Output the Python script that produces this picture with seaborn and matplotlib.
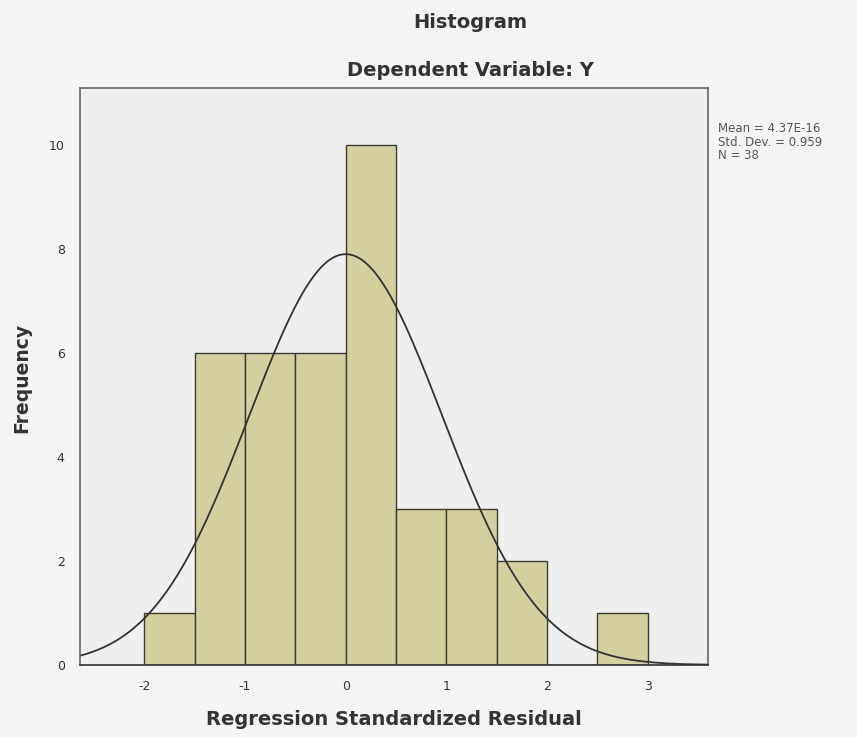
import numpy as np
import pandas as pd
import matplotlib
matplotlib.use("Agg")
import matplotlib.pyplot as plt
import seaborn as sns

bin_centers = [-1.75, -1.25, -0.75, -0.25, 0.25, 0.75, 1.25, 1.75, 2.25, 2.75]
counts = [1, 6, 6, 6, 10, 3, 3, 2, 0, 1]
mean_val = 4.37e-16
std_val = 0.959
n_val = 38
xticks = [-2, -1, 0, 1, 2, 3]
yticks = [0, 2, 4, 6, 8, 10]

sns.set_style("white")
plt.rcParams['font.family'] = ['DejaVu Sans']

fig = plt.figure(figsize=(8.57, 7.37), dpi=100, facecolor="#f4f4f4")
ax = fig.add_axes([80/857, 72/737, 628/857, 577/737])
ax.set_facecolor("#efefef")

df = pd.DataFrame({"x": bin_centers, "w": counts})
sns.histplot(data=df, x="x", weights="w", binwidth=0.5, binrange=(-2, 3),
             color="#d4cf9f", alpha=1, edgecolor="#3a3a30", linewidth=1.0, ax=ax)

xs = np.linspace(-2.64, 3.6, 400)
pdf = n_val * 0.5 / (std_val * np.sqrt(2 * np.pi)) * np.exp(-0.5 * ((xs - mean_val) / std_val) ** 2)
sns.lineplot(x=xs, y=pdf, color="#333333", linewidth=1.3, ax=ax)

ax.set_xlim(-2.64, 3.6)
ax.set_ylim(0, 11.1)
ax.set_xticks(xticks)
ax.set_xticklabels([str(t) for t in xticks])
ax.set_yticks(yticks)
ax.set_yticklabels([str(t) for t in yticks])
ax.tick_params(direction="out", length=6, width=1, pad=5, color="#555555", labelsize=9, labelcolor="#333333")
for s in ax.spines.values():
    s.set_color("#666666")
    s.set_linewidth(1.2)
ax.spines["bottom"].set_color("#333333")

ax.set_xlabel("Regression Standardized Residual", fontsize=14, fontweight="bold", color="#333333")
ax.set_ylabel("Frequency", fontsize=13.5, fontweight="bold", color="#333333")
ax.xaxis.set_label_coords((394 - 80) / 628, -(710 - 665) / 577)
ax.yaxis.set_label_coords((31 - 80) / 628, (737 - 378 - 72) / 577)

fig.text(470/857, 1 - 22/737, "Histogram", ha="center", va="center", fontsize=14, fontweight="bold", color="#333333")
fig.text(470/857, 1 - 70/737, "Dependent Variable: Y", ha="center", va="center", fontsize=14, fontweight="bold", color="#333333")

fig.text(718/857, 1 - 122/737,
         "Mean = 4.37E-16\nStd. Dev. = 0.959\nN = 38",
         ha="left", va="top", fontsize=8.5, color="#555555", linespacing=1.05)

fig.savefig("out.png", dpi=100, facecolor=fig.get_facecolor())
